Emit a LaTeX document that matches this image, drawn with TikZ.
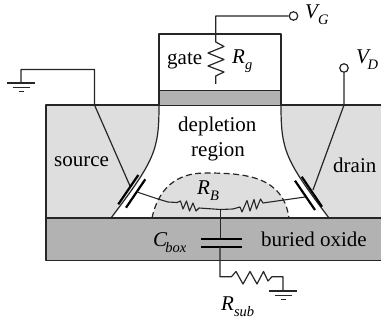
\documentclass[tikz,border=0pt]{standalone}
\usepackage{fontspec}
\setmainfont{Liberation Serif}
\usetikzlibrary{positioning}
\definecolor{bodygray}{gray}{0.87}
\definecolor{oxidegray}{gray}{0.70}
\tikzset{
  wire/.style={line width=1.2pt,black!85,line join=round},
  thinwire/.style={line width=1.1pt,black!85,line join=round},
  plate/.style={line width=2.2pt,black},
  terminal/.style={circle,draw=black!85,line width=1.2pt,fill=white,inner sep=0pt,minimum size=8.5pt},
  lbl/.style={anchor=base west,inner sep=0pt,font=\fontsize{21}{24}\selectfont}
}
\newcommand{\symlabel}[3][0pt]{\textit{#2}\kern#1\raisebox{-0.28em}{\fontsize{14.5}{15}\selectfont\textit{#3}}}
\newcommand{\groundsym}[1]{
  \begin{scope}[shift={(#1)}]
    \draw[thinwire] (-14,0) -- (14,0);
    \draw[thinwire] (-8.5,4.3) -- (8.5,4.3);
    \draw[wire] (-2.5,8.6) -- (2.5,8.6);
  \end{scope}
}
\begin{document}
\begin{tikzpicture}[x=1pt,y=-1pt]
  \useasboundingbox (0,0) rectangle (381,320);

  % Draw substrate
  \fill[bodygray] (46,105) rectangle (381,218);
  \fill[oxidegray] (46,218) rectangle (381,260.5);

  % Depletion region and neutral body
  \fill[white] (111,218) .. controls (155,160) and (159,150) .. (159,105) -- (281,105)
    .. controls (281,150) and (285,160) .. (329,218) -- cycle;
  \fill[bodygray] (152,218) .. controls (158,190) and (175,173) .. (205,173)
    .. controls (245,173) and (283,176) .. (289,218) -- cycle;
  \draw[wire,dash pattern=on 6pt off 3.5pt] (152,218) .. controls (158,190) and (175,173) .. (205,173)
    .. controls (245,173) and (283,176) .. (289,218);

  % Outlines
  \draw[wire] (111,218) .. controls (155,160) and (159,150) .. (159,105);
  \draw[wire] (329,218) .. controls (285,160) and (281,150) .. (281,105);
  \draw[wire] (381,105) -- (46,105) -- (46,260.5) -- (381,260.5);
  \draw[wire] (46,218) -- (381,218);

  % Gate
  \fill[oxidegray] (159,90.5) rectangle (281,105);
  \draw[wire] (159,105) -- (159,34) -- (281,34) -- (281,105);
  \draw[wire] (159,90.5) -- (281,90.5);

  % Terminals and junctions
  \node[terminal] (vgate) at (293.5,16) {};
  \node[terminal] (vdrain) at (344,68) {};
  \coordinate (gnds) at (21,83);
  \coordinate (gndb) at (283,291);
  \coordinate (srcplate) at (130,186);
  \coordinate (drnplate) at (313,190);
  \coordinate (srctie) at (137,192);
  \coordinate (drntie) at (305,197);
  \coordinate (bodynode) at (220.5,209.5);

  % Gate lead with R_g
  \draw[wire] (vgate) -- (215.7,16) -- (215.7,42) -- (224,46.5) -- (208,53) -- (224,59.5)
    -- (208,66) -- (224,72) -- (215.7,76) -- (215.7,84);

  % Source and drain leads
  \groundsym{gnds}
  \draw[wire] (gnds) -- (21,69.5) -- (94.5,69.5) -- (94.5,105) -- (srcplate);
  \draw[wire] (vdrain) -- (344,105) -- (drnplate);

  % Junction capacitors
  \draw[plate] (118.3,204.3) -- (138.3,175);
  \draw[plate] (126,207.7) -- (145.3,179.3);
  \draw[plate] (301.7,176.7) -- (322,206.7);
  \draw[plate] (295,180.7) -- (315,210);

  % R_B
  \draw[thinwire] (srctie) -- (158,199) -- (168,202) -- (177,202.5) -- (180.5,201)
    -- (183,209) -- (186.5,201) -- (189.5,211) -- (193,203) -- (196,211) -- (199,208)
    -- (bodynode);
  \draw[thinwire] (bodynode) -- (233,209) -- (240,207) -- (242,212) -- (247,200.5)
    -- (250,211) -- (254,199.5) -- (256.5,209) -- (260.5,199) -- (263,203) -- (drntie);

  % Buried oxide capacitor and R_sub
  \draw[wire] (bodynode) -- (220.5,239.3);
  \draw[plate] (201,239.3) -- (241.7,239.3);
  \draw[plate] (201,247) -- (241.7,247);
  \draw[wire] (220,247) -- (220,276.7) -- (231.5,276.7) -- (236,271.5) -- (243,284)
    -- (250,271.5) -- (257,284) -- (263.5,271.5) -- (268,281) -- (272,276.7) -- (283,276.7) -- (gndb);
  \groundsym{gndb}

  % Labels
  \node[lbl] (gatelbl) at (167,65) {gate};
  \node[lbl] (rglbl) at (232,63.5) {\symlabel{R}{g}};
  \node[lbl] (vglbl) at (305,18.5) {\symlabel[-2pt]{V}{G}};
  \node[lbl] (vdlbl) at (356,64) {\symlabel[-3.5pt]{V}{D}};
  \node[lbl] (deplbl) at (178,132) {depletion};
  \node[lbl] (reglbl) at (191,157) {region};
  \node[lbl] (srclbl) at (54,167) {source};
  \node[lbl] (drnlbl) at (333,173) {drain};
  \node[lbl] (rblbl) at (197,195) {\symlabel{R}{B}};
  \node[lbl] (cboxlbl) at (153,247) {\symlabel[-2pt]{C}{box}};
  \node[lbl] (oxlbl) at (261,247) {buried oxide};
  \node[lbl] (rsublbl) at (221,310.5) {\symlabel{R}{sub}};
\end{tikzpicture}
\end{document}
